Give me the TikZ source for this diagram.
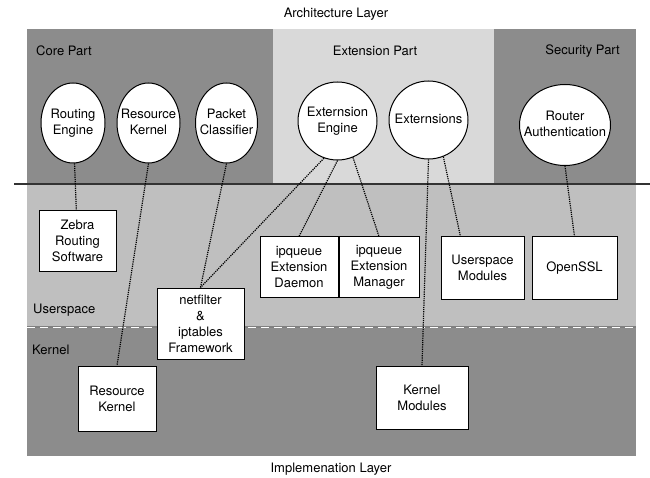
\documentclass[tikz,border=0pt]{standalone}
\usepackage{fontspec}
\setmainfont{TeX Gyre Heros}
\usetikzlibrary{shapes.geometric,positioning}
\definecolor{darkpart}{RGB}{140,140,140}
\definecolor{lightpart}{RGB}{217,217,217}
\definecolor{userpart}{RGB}{191,191,191}
\newcommand{\etext}[1]{\makebox[0pt]{\begin{tabular}{@{}c@{}}#1\end{tabular}}}
\tikzset{
  unit/.style={ellipse, draw, line width=1pt, fill=white, inner sep=0pt},
  comp/.style={rectangle, draw, line width=1pt, fill=white, inner sep=0pt, align=center},
  link/.style={densely dotted, line width=1.2pt},
  caption/.style={inner sep=0pt}
}
\begin{document}
\begin{tikzpicture}[x=1pt,y=-1pt,font=\fontsize{13}{16}\selectfont]
\useasboundingbox (0,0) rectangle (650,478);
% layers
\fill[darkpart] (27,29) rectangle (273,184);
\fill[lightpart] (273,29) rectangle (494,184);
\fill[darkpart] (494,29) rectangle (636,184);
\fill[userpart] (27,184) rectangle (636,327);
\fill[darkpart] (27,327) rectangle (636,456);
\draw[line width=1.2pt, black!80] (14,184) -- (650,184);
\draw[line width=1.2pt, black!50] (27,327) -- (636,327);
\draw[line width=1pt, white, dash pattern=on 8pt off 5pt] (27,327) -- (636,327);

\node[caption] (arch) at (336,14) {Architecture Layer};
\node[caption] (impl) at (331,469) {Implemenation Layer};
\node[caption, anchor=west] (core) at (36,51) {Core Part};
\node[caption] (extp) at (375,51) {Extension Part};
\node[caption, anchor=east] (sec) at (620,51) {Security Part};
\node[caption, anchor=west] (us) at (33,310) {Userspace};
\node[caption, anchor=west] (kn) at (32,350) {Kernel};

\node[unit, minimum width=64pt, minimum height=80pt] (re) at (73,123) {\etext{Routing\\Engine}};
\node[unit, minimum width=63pt, minimum height=80pt] (rke) at (148.5,123) {\etext{Resource\\Kernel}};
\node[unit, minimum width=62pt, minimum height=80pt] (pc) at (226.5,123) {\etext{Packet\\Classifier}};
\node[unit, minimum width=79pt, minimum height=78pt] (ee) at (337.5,121) {\etext{Externsion\\Engine}};
\node[unit, minimum width=79pt, minimum height=78pt] (ext) at (428.5,120) {\etext{Externsions}};
\node[unit, minimum width=91pt, minimum height=81pt] (ra) at (565,125) {\etext{Router\\Authentication}};

\node[comp, minimum width=77pt, minimum height=60pt] (zeb) at (77.5,241) {Zebra\\Routing\\Software};
\node[comp, minimum width=78pt, minimum height=60pt] (dm) at (299,267) {ipqueue\\Extension\\Daemon};
\node[comp, minimum width=80pt, minimum height=60pt, right=0pt of dm] (mg) {ipqueue\\Extension\\Manager};
\node[comp, minimum width=83pt, minimum height=62pt] (um) at (482.5,268) {Userspace\\Modules};
\node[comp, minimum width=85pt, minimum height=62pt] (os) at (574.5,268) {OpenSSL};
\node[comp, minimum width=87pt, minimum height=71pt] (nf) at (200.5,323.5) {netfilter\\\&\\iptables\\Framework};
\node[comp, minimum width=78pt, minimum height=65pt] (rkb) at (117,398.5) {Resource\\Kernel};
\node[comp, minimum width=92pt, minimum height=63pt] (km) at (422,397.5) {Kernel\\Modules};

\draw[link] (re) -- (zeb);
\draw[link] (rke.south) -- (rkb.north);
\draw[link] (pc.south) -- (nf.north);
\draw[link] (ee.250) -- (nf.north);
\draw[link] (ee.south) -- (dm.north);
\draw[link] (ee.293) -- (mg.north);
\draw[link] (ext.south) -- (km.north);
\draw[link] (ext.292) -- (um.125);
\draw[link] (ra.south) -- (os.north);
\end{tikzpicture}
\end{document}
